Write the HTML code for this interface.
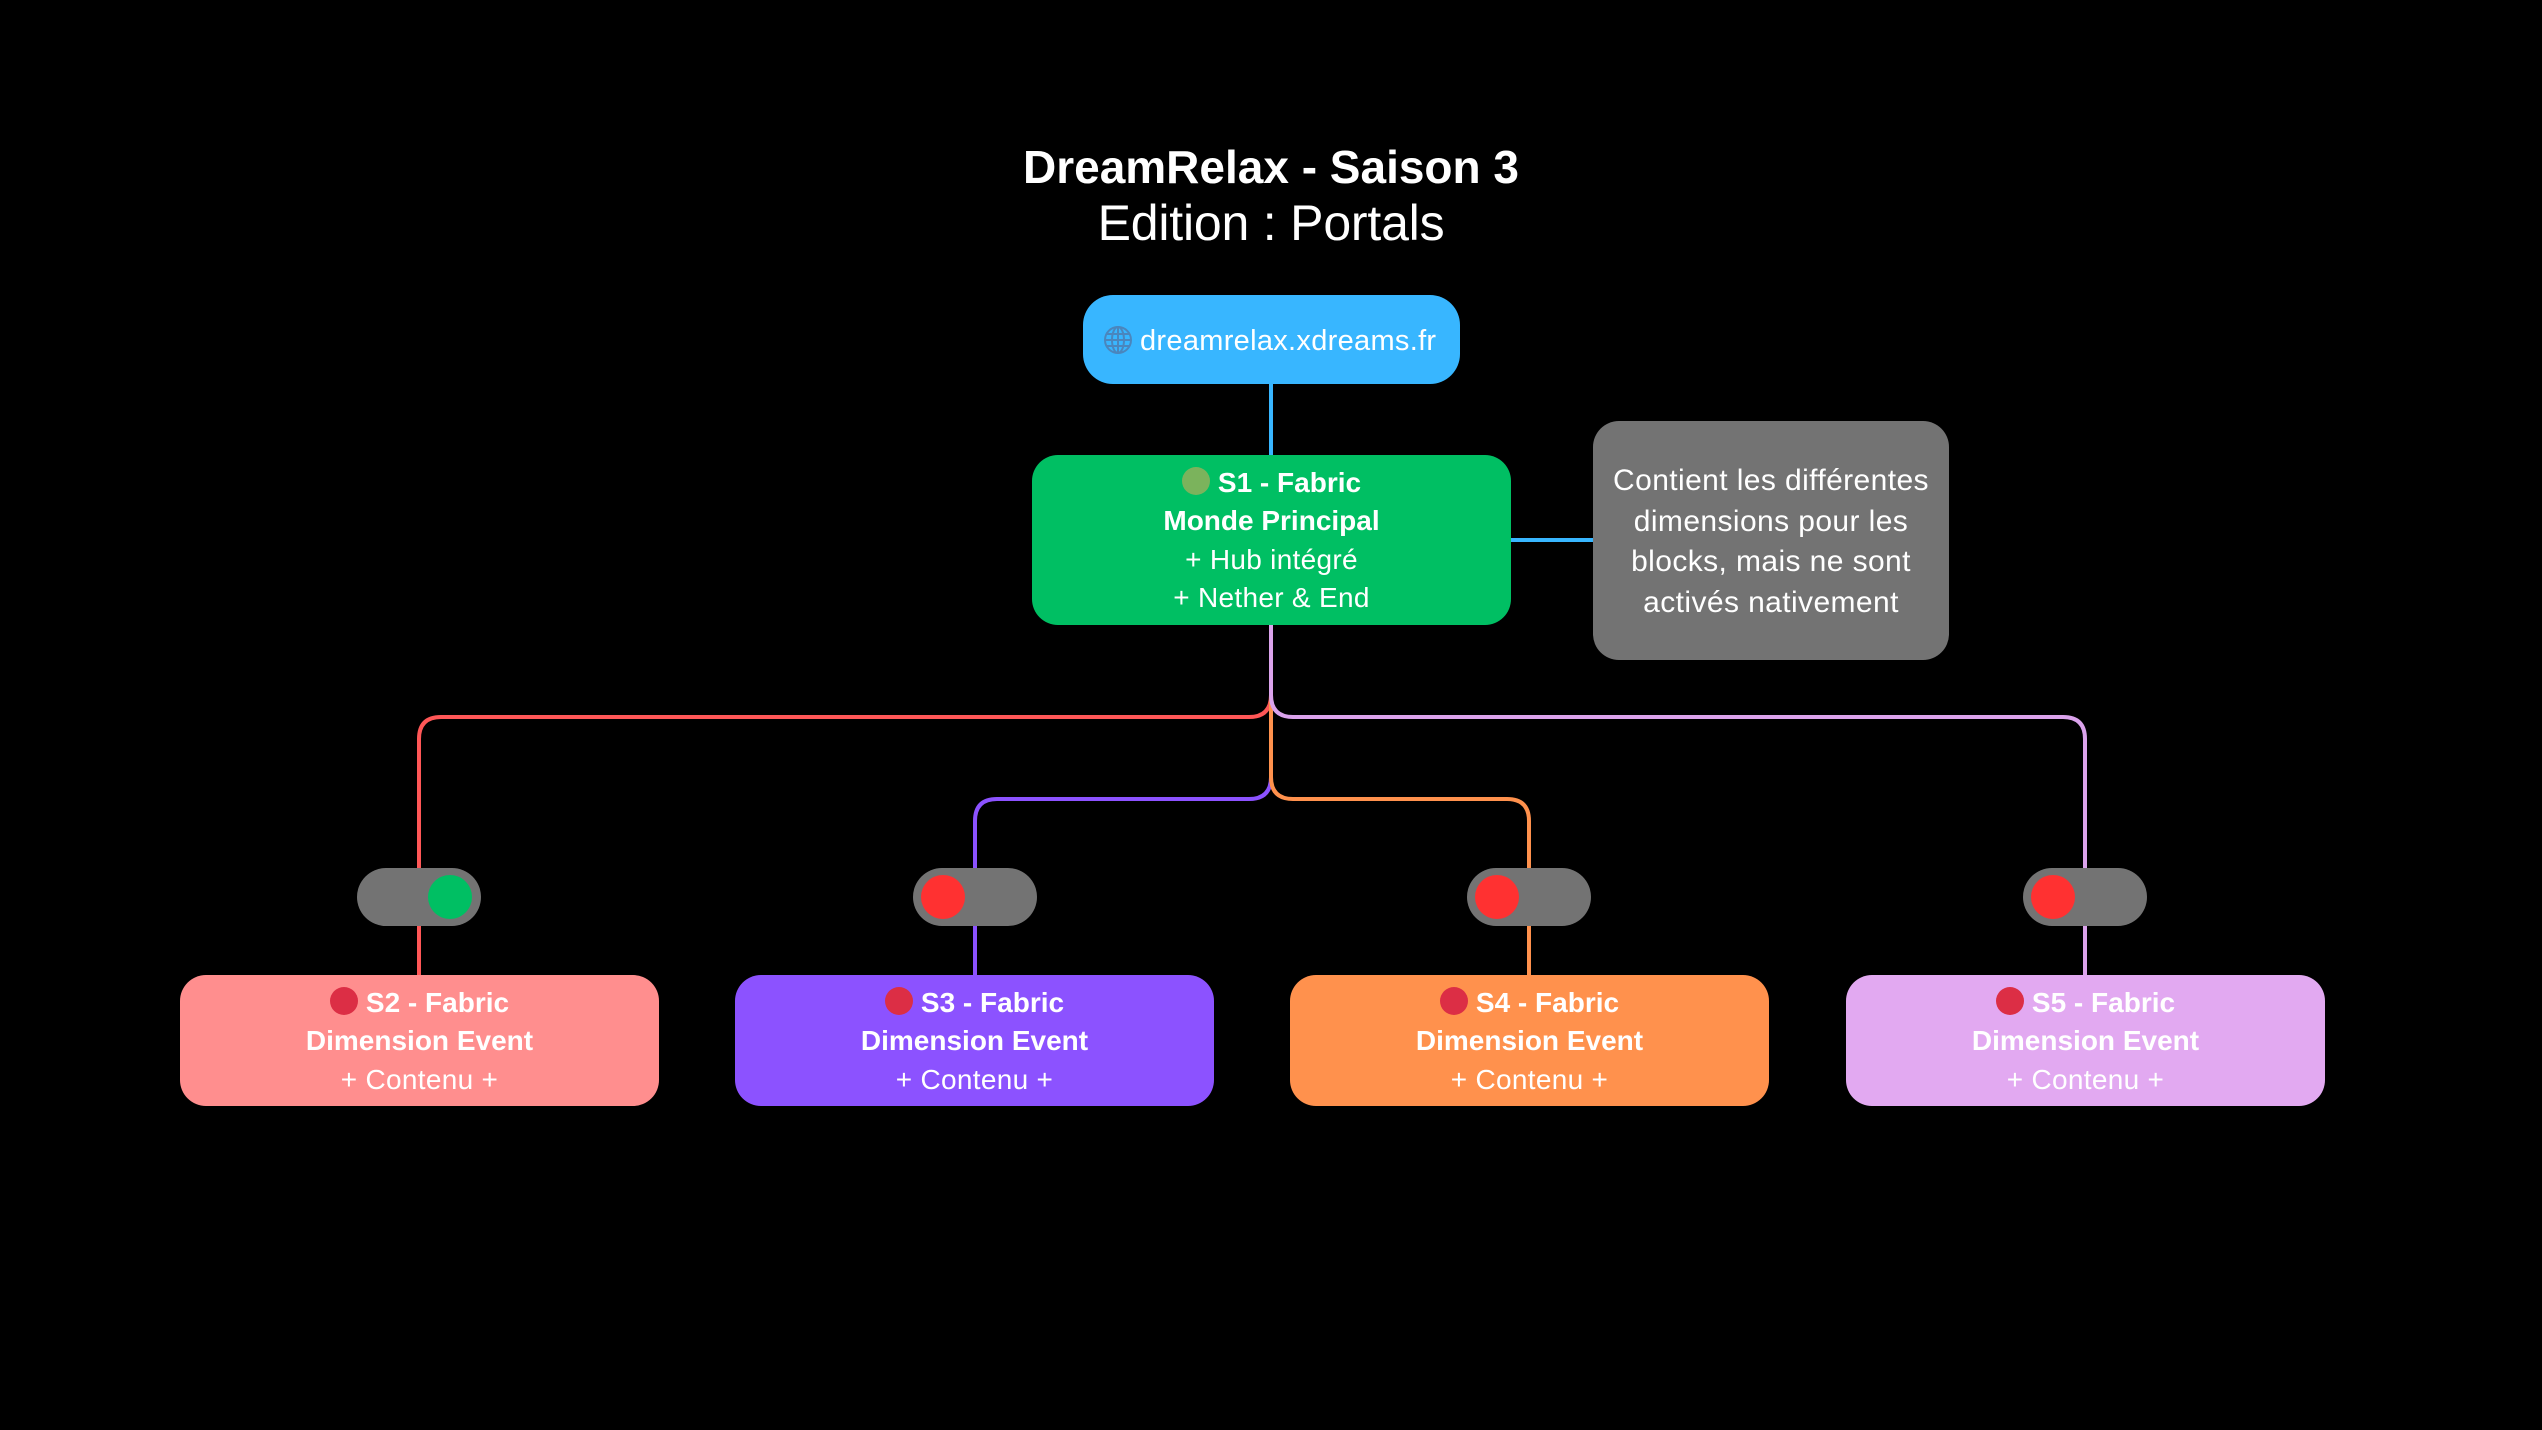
<!DOCTYPE html>
<html>
<head>
<meta charset="utf-8">
<style>
  html, body { margin:0; padding:0; background:#000; }
  body { width:2542px; height:1430px; position:relative; overflow:hidden; font-family:"Liberation Sans", "DejaVu Sans", sans-serif; color:#fff; }
  .abs { position:absolute; }
  .title { left:0; width:2542px; text-align:center; font-weight:bold; font-size:46px; line-height:56px; top:139px; }
  .sub { left:0; width:2542px; text-align:center; font-size:50px; line-height:60px; top:193px; letter-spacing:-0.2px; }
  .box { position:absolute; box-sizing:border-box; text-align:center; }
  .ln { font-size:28px; line-height:38.4px; white-space:nowrap; }
  .b { font-weight:bold; }
  .r { letter-spacing:0.3px; }
  .dot { display:inline-block; width:28px; height:28px; border-radius:50%; vertical-align:-3px; margin-right:8px; }
  .note .ln { font-size:30px; line-height:40.7px; letter-spacing:0.4px; }
  .pill { position:absolute; width:124px; height:58px; border-radius:29px; background:#737373; top:868px; }
  .knob { position:absolute; width:44px; height:44px; border-radius:50%; top:7px; }
</style>
</head>
<body>

<div class="abs title">DreamRelax - Saison 3</div>
<div class="abs sub">Edition : Portals</div>

<svg class="abs" style="left:0;top:0" width="2542" height="1430" viewBox="0 0 2542 1430">
  <line x1="1271" y1="380" x2="1271" y2="460" stroke="#38b6ff" stroke-width="4"/>
  <line x1="1505" y1="540" x2="1598" y2="540" stroke="#38b6ff" stroke-width="4"/>
  <path d="M1271,620 V695 Q1271,717 1249,717 H441 Q419,717 419,739 V980" fill="none" stroke="#ff5757" stroke-width="4"/>
  <path d="M1271,620 V777 Q1271,799 1249,799 H997 Q975,799 975,821 V980" fill="none" stroke="#8c52ff" stroke-width="4"/>
  <path d="M1271,620 V777 Q1271,799 1293,799 H1507 Q1529,799 1529,821 V980" fill="none" stroke="#ff914d" stroke-width="4"/>
  <path d="M1271,620 V695 Q1271,717 1293,717 H2063 Q2085,717 2085,739 V980" fill="none" stroke="#dba3ec" stroke-width="4"/>
</svg>

<div class="box" style="left:1083px;top:295px;width:377px;height:89px;border-radius:30px;background:#38b6ff;"></div>
<svg class="abs" style="left:1103px;top:325px" width="30" height="30" viewBox="0 0 30 30">
  <g fill="none" stroke="#4a86bd" stroke-width="2">
    <circle cx="15" cy="15" r="13"/>
    <ellipse cx="15" cy="15" rx="6" ry="13"/>
    <line x1="15" y1="2" x2="15" y2="28"/>
    <line x1="2" y1="15" x2="28" y2="15"/>
    <line x1="4" y1="9" x2="26" y2="9"/>
    <line x1="4" y1="21" x2="26" y2="21"/>
  </g>
</svg>
<div class="abs" style="left:1140px;top:321px;font-size:29px;line-height:40px;letter-spacing:0.3px;white-space:nowrap;">dreamrelax.xdreams.fr</div>

<div class="box" style="left:1032px;top:455px;width:479px;height:170px;border-radius:26px;background:#00bf63;padding-top:9px;">
  <div class="ln b"><span class="dot" style="background:#7bb35c"></span>S1 - Fabric</div>
  <div class="ln b">Monde Principal</div>
  <div class="ln r">+ Hub intégré</div>
  <div class="ln r">+ Nether &amp; End</div>
</div>

<div class="box note" style="left:1593px;top:421px;width:356px;height:239px;border-radius:26px;background:#737373;padding-top:40px;">
  <div class="ln">Contient les différentes</div>
  <div class="ln">dimensions pour les</div>
  <div class="ln">blocks, mais ne sont</div>
  <div class="ln">activés nativement</div>
</div>

<div class="pill" style="left:357px;"><div class="knob" style="left:71px;background:#00bf63"></div></div>
<div class="pill" style="left:913px;"><div class="knob" style="left:8px;background:#ff3131"></div></div>
<div class="pill" style="left:1467px;"><div class="knob" style="left:8px;background:#ff3131"></div></div>
<div class="pill" style="left:2023px;"><div class="knob" style="left:8px;background:#ff3131"></div></div>

<div class="box" style="left:180px;top:975px;width:479px;height:131px;border-radius:26px;background:#ff8e8e;padding-top:9px;">
  <div class="ln b"><span class="dot" style="background:#dc2e45"></span>S2 - Fabric</div>
  <div class="ln b">Dimension Event</div>
  <div class="ln r">+ Contenu +</div>
</div>
<div class="box" style="left:735px;top:975px;width:479px;height:131px;border-radius:26px;background:#8c52ff;padding-top:9px;">
  <div class="ln b"><span class="dot" style="background:#dc2e45"></span>S3 - Fabric</div>
  <div class="ln b">Dimension Event</div>
  <div class="ln r">+ Contenu +</div>
</div>
<div class="box" style="left:1290px;top:975px;width:479px;height:131px;border-radius:26px;background:#ff914d;padding-top:9px;">
  <div class="ln b"><span class="dot" style="background:#dc2e45"></span>S4 - Fabric</div>
  <div class="ln b">Dimension Event</div>
  <div class="ln r">+ Contenu +</div>
</div>
<div class="box" style="left:1846px;top:975px;width:479px;height:131px;border-radius:26px;background:#e2a9f1;padding-top:9px;">
  <div class="ln b"><span class="dot" style="background:#dc2e45"></span>S5 - Fabric</div>
  <div class="ln b">Dimension Event</div>
  <div class="ln r">+ Contenu +</div>
</div>

</body>
</html>
